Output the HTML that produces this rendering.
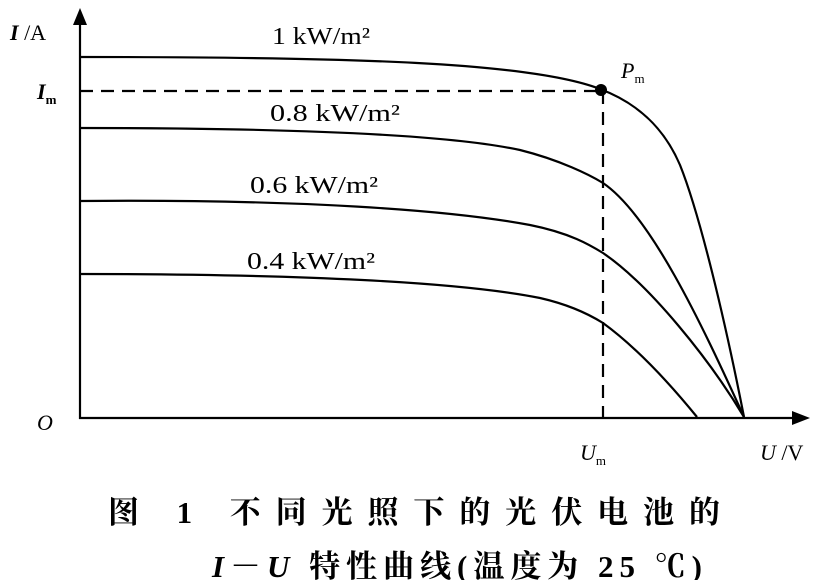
<!DOCTYPE html>
<html><head><meta charset="utf-8"><style>
body{margin:0;background:#fff;}
svg{display:block}
</style></head><body>
<svg width="826" height="580" viewBox="0 0 826 580" xmlns="http://www.w3.org/2000/svg">
<g fill="none" stroke="#000" stroke-width="2.2">
<line x1="80" y1="18" x2="80" y2="419"/>
<line x1="79" y1="418" x2="800" y2="418"/>
<path d="M80,57 C350,57 530,62 600,89 C640,104 665,130 680,165 C700,215 725,320 744,417"/>
<path d="M80,128 C300,128 450,135 520,150 C560,160 590,175 603,183 C650,215 700,320 744,417"/>
<path d="M80,201 C300,199 450,210 530,225 C570,233 590,245 603,253 C650,285 710,360 744,417"/>
<path d="M80,274 C300,274 460,282 540,298 C575,306 595,318 603,323 C640,350 675,390 697,417"/>
<path d="M80,91 H598 M603,91 V417" stroke-dasharray="13,8"/>
</g>
<polygon points="80,8 73,25 87,25" fill="#000"/>
<polygon points="810,418 792,411 792,425" fill="#000"/>
<circle cx="601" cy="90" r="6" fill="#000"/>
<g font-family="Liberation Serif, serif" fill="#000" font-size="22">
<text x="10" y="40"><tspan font-style="italic" font-weight="bold">I</tspan> /A</text>
<text x="37" y="99" font-style="italic" font-weight="bold">I<tspan font-size="13" font-style="normal" dy="5">m</tspan></text>
<text x="37" y="430" font-style="italic">O</text>
<g font-size="24" lengthAdjust="spacingAndGlyphs">
<text x="272" y="44" textLength="98" lengthAdjust="spacingAndGlyphs">1 kW/m²</text>
<text x="270" y="121" textLength="130" lengthAdjust="spacingAndGlyphs">0.8 kW/m²</text>
<text x="250" y="193" textLength="128" lengthAdjust="spacingAndGlyphs">0.6 kW/m²</text>
<text x="247" y="269" textLength="128" lengthAdjust="spacingAndGlyphs">0.4 kW/m²</text>
</g>
<text x="621" y="78" font-style="italic">P<tspan font-size="13" font-style="normal" dy="5">m</tspan></text>
<text x="580" y="460" font-style="italic">U<tspan font-size="13" font-style="normal" dy="5">m</tspan></text>
<text x="760" y="460"><tspan font-style="italic">U</tspan> /V</text>
</g>
<g font-family="Liberation Serif, Noto Serif CJK SC, serif" fill="#000" font-size="31" font-weight="bold">
<text x="108" y="523" textLength="612" lengthAdjust="spacing">图 1 不同光照下的光伏电池的</text>
<text x="212" y="577" textLength="490" lengthAdjust="spacing"><tspan font-style="italic">I</tspan>－<tspan font-style="italic">U</tspan> 特性曲线(温度为 25 ℃)</text>
</g>
</svg>
</body></html>
